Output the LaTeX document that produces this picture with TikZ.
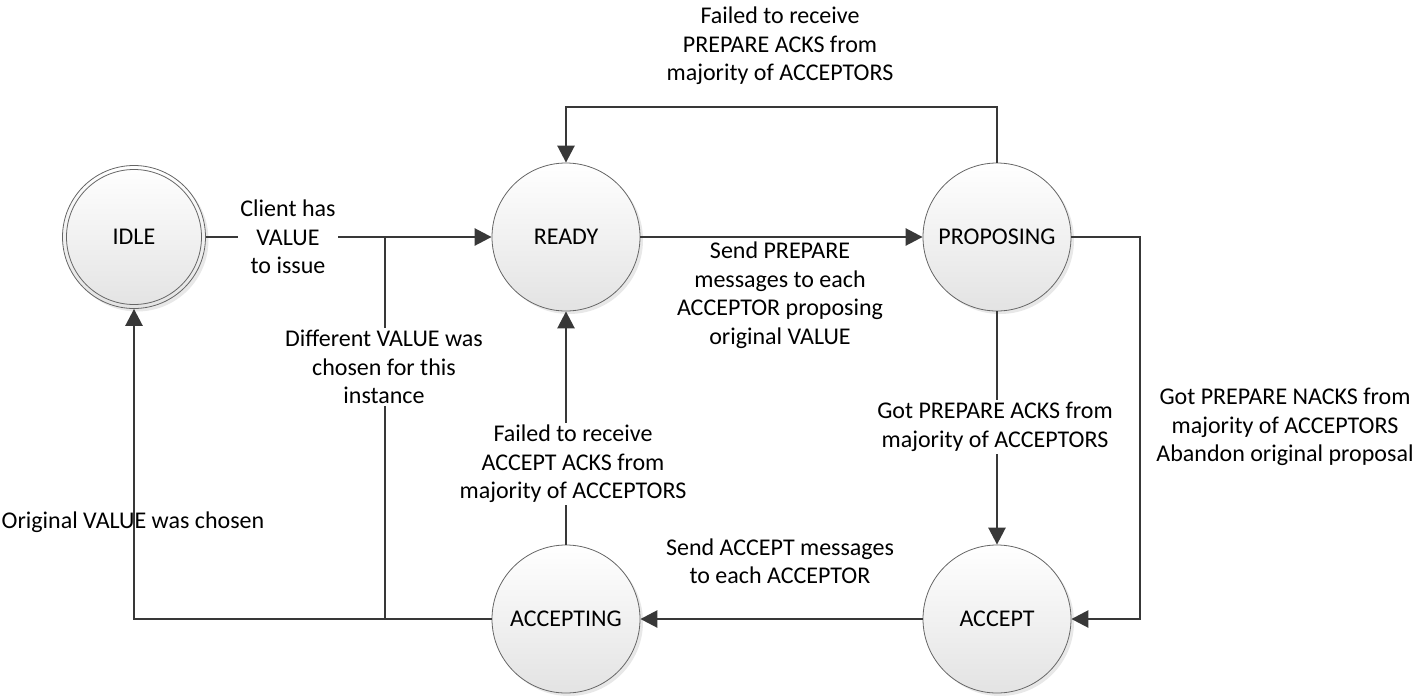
\documentclass[tikz,border=0pt]{standalone}
\usepackage{fontspec}
\setmainfont{Carlito}
\usetikzlibrary{arrows.meta,shadows}
\begin{document}
\begin{tikzpicture}[x=1pt,y=-1pt,
  state/.style={circle,draw=black!60,line width=0.8pt,minimum size=148pt,inner sep=0pt,
    top color=white,bottom color=black!11,
    drop shadow={opacity=0.18,shadow xshift=3pt,shadow yshift=-3pt},
    font=\fontsize{24}{28}\selectfont},
  conn/.style={draw=black!78,line width=2.6pt,-{Triangle[length=17pt,width=17pt]}},
  plain/.style={draw=black!78,line width=2.6pt},
  lbl/.style={align=center,font=\fontsize{24}{28.5}\selectfont,inner sep=2pt},
  lblw/.style={lbl,fill=white}]
\useasboundingbox (0,0) rectangle (1417,697);
\node[state,minimum size=143pt] (idle) at (134,237) {IDLE};
\draw[black!60,line width=0.8pt] (idle.center) circle (67.5);
\node[state] (ready) at (566,237) {READY};
\node[state] (prop) at (997,237) {PROPOSING};
\node[state] (accing) at (566,619) {ACCEPTING};
\node[state] (acc) at (997,619) {ACCEPT};
% connectors
\draw[conn] (idle) -- (ready);
\draw[conn] (ready) -- (prop);
\draw[conn] (prop.north) |- (780,107) -| (ready.north);
\draw[conn] (prop) -- (acc);
\draw[conn] (prop.east) -- (1140,237) |- (acc.east);
\draw[conn] (acc) -- (accing);
\draw[conn] (accing) -- (ready);
\draw[conn] (accing.west) -| (idle.south);
\draw[plain] (accing.west) -- (385,619) -- (385,237);
% labels
\node[lblw] (l1) at (288,237) {Client has\\VALUE\\to issue};
\node[lbl] (l2) at (780,295) {Send PREPARE\\messages to each\\ACCEPTOR proposing\\original VALUE};
\node[lbl] (l3) at (780,46) {Failed to receive\\PREPARE ACKS from\\majority of ACCEPTORS};
\node[lblw] (l4) at (995,427) {Got PREPARE ACKS from\\majority of ACCEPTORS};
\node[lbl] (l5) at (1285,427) {Got PREPARE NACKS from\\majority of ACCEPTORS\\Abandon original proposal};
\node[lbl] (l6) at (780,561) {Send ACCEPT messages\\to each ACCEPTOR};
\node[lblw] (l7) at (573,464) {Failed to receive\\ACCEPT ACKS from\\majority of ACCEPTORS};
\node[lbl] (l8) at (133,522) {Original VALUE was chosen};
\node[lblw] (l9) at (384,367) {Different VALUE was\\chosen for this\\instance};
\end{tikzpicture}
\end{document}
